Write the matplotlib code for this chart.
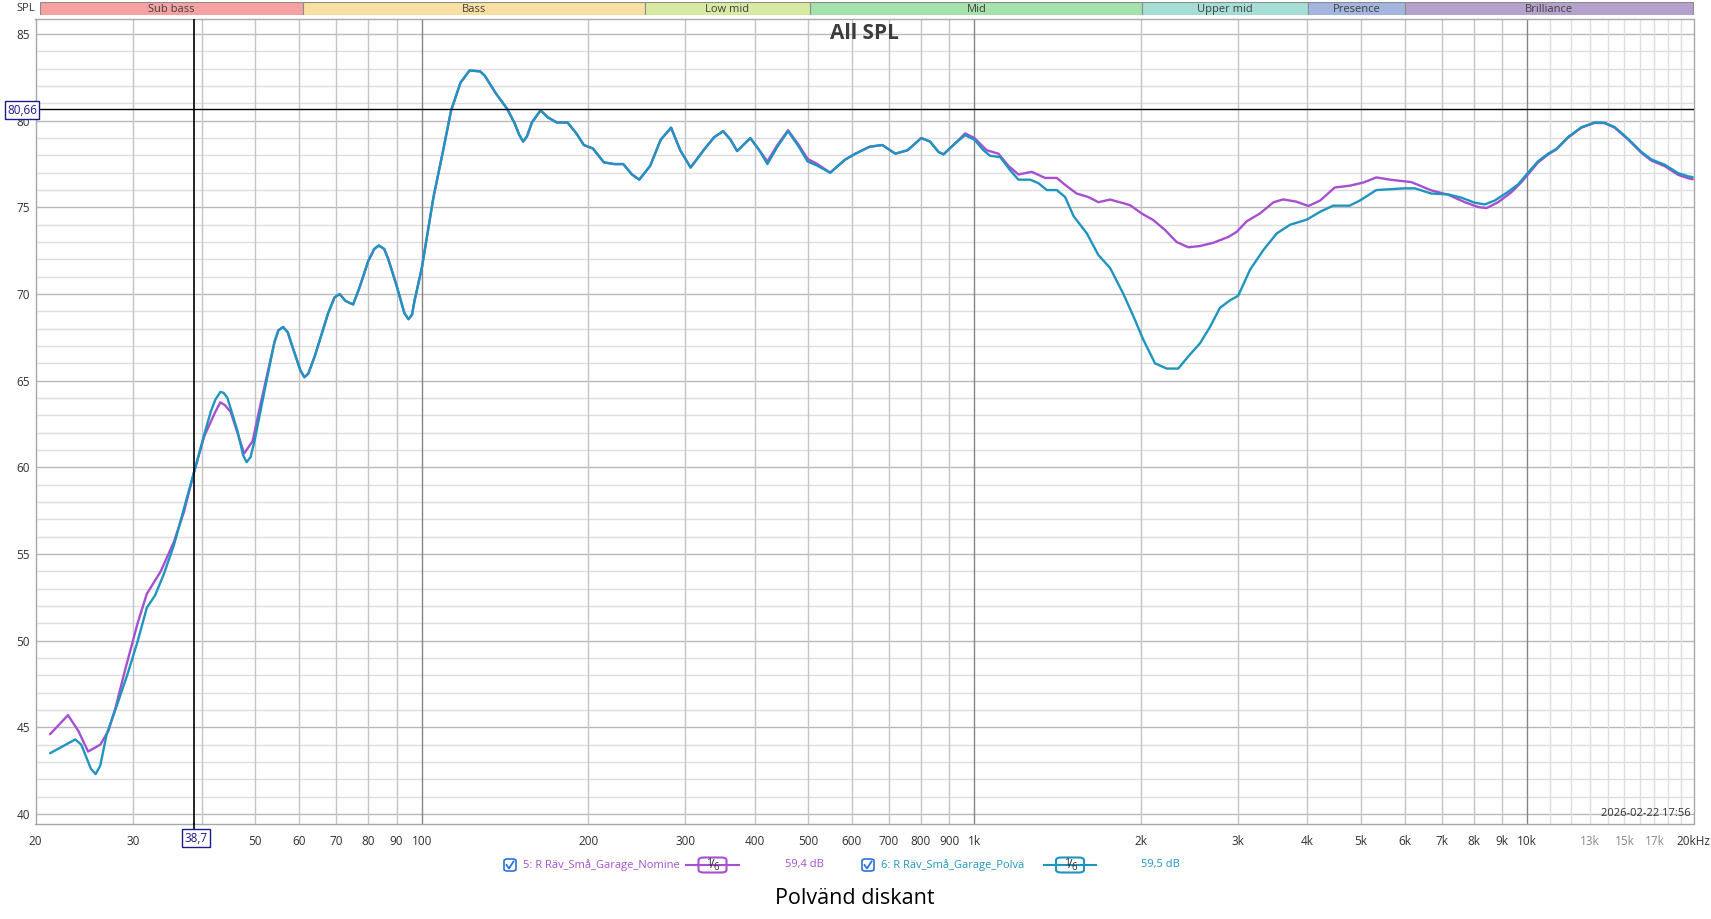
#!/usr/bin/env python3
# coding: utf-8

import numpy as np
import matplotlib
matplotlib.use('Agg')
import matplotlib.pyplot as plt
from matplotlib.patches import Rectangle, FancyBboxPatch
from matplotlib.lines import Line2D

plt.rcParams['font.family'] = ['Open Sans', 'DejaVu Sans']

freq_pol = [21.25, 23.6, 24.2, 25.2, 25.7, 26.2, 26.9, 28.1, 29.3, 30.6,
            31.8, 32.9, 34.1, 35.6, 37.1, 38.7, 40.4, 41.5, 42.3, 43.2,
            43.8, 44.5, 46.4, 47.5, 48.2, 49.0, 49.8, 52.0, 54.1, 55.0,
            56.1, 57.2, 58.0, 60.3, 61.3, 62.3, 64.0, 67.7, 69.5, 71.0,
            72.8, 75.1, 77.0, 80.0, 82.0, 83.6, 85.5, 87, 90, 93,
            94.6, 96, 97, 100, 101.2, 105, 109, 113, 117.5, 122,
            127.5, 130, 136, 142.6, 147, 150, 152.5, 155, 158.2, 164,
            169, 175.5, 183.5, 190.6, 196.4, 204, 213.5, 223, 231.5, 240,
            247.5, 259, 270.5, 282.5, 293.5, 306.5, 323.5, 338, 351, 362,
            372, 393, 408, 422, 440, 460, 481, 499, 520, 548,
            583, 609, 646, 681, 719, 757, 801, 831, 861, 879,
            923, 962, 1000, 1038, 1067, 1113, 1160, 1201, 1261, 1305,
            1352, 1409, 1459, 1511, 1597, 1676, 1760, 1860, 1940, 2022,
            2122, 2228, 2337, 2437, 2558, 2668, 2780, 2903, 3000, 3152,
            3334, 3524, 3725, 3997, 4223, 4456, 4773, 4984, 5335, 5647,
            6000, 6262, 6711, 7196, 7606, 8041, 8382, 8742, 9240, 9632,
            10000, 10469, 10913, 11301, 11862, 12539, 13256, 13818, 14403, 15226,
            16095, 16780, 17741, 18755, 19562, 19935]
spl_pol = [43.5, 44.3, 44.0, 42.6, 42.3, 42.8, 44.6, 46.3, 48.0, 49.95,
           51.9, 52.6, 53.8, 55.5, 57.6, 59.7, 61.9, 63.2, 63.9, 64.35,
           64.3, 64.0, 62.1, 60.7, 60.3, 60.6, 61.5, 64.5, 67.2, 67.9,
           68.1, 67.8, 67.2, 65.6, 65.2, 65.4, 66.4, 68.9, 69.8, 70.0,
           69.6, 69.4, 70.3, 71.9, 72.6, 72.8, 72.6, 72.0, 70.5, 68.9,
           68.55, 68.8, 69.6, 71.5, 72.5, 75.6, 78.1, 80.6, 82.2, 82.9,
           82.85, 82.6, 81.6, 80.7, 79.9, 79.2, 78.8, 79.1, 79.9, 80.6,
           80.2, 79.9, 79.9, 79.25, 78.6, 78.4, 77.6, 77.5, 77.5, 76.9,
           76.6, 77.4, 78.9, 79.6, 78.3, 77.3, 78.3, 79.05, 79.4, 78.9,
           78.25, 79.0, 78.3, 77.5, 78.5, 79.4, 78.5, 77.65, 77.4, 77.0,
           77.75, 78.1, 78.5, 78.6, 78.1, 78.3, 79.0, 78.8, 78.2, 78.06,
           78.7, 79.17, 78.9, 78.3, 77.98, 77.9, 77.15, 76.6, 76.6, 76.4,
           76.0, 76.0, 75.6, 74.5, 73.5, 72.25, 71.5, 70.0, 68.7, 67.35,
           66.0, 65.7, 65.7, 66.4, 67.15, 68.1, 69.2, 69.65, 69.9, 71.4,
           72.55, 73.5, 74.0, 74.3, 74.75, 75.1, 75.1, 75.4, 76.0, 76.05,
           76.1, 76.1, 75.8, 75.75, 75.56, 75.27, 75.17, 75.4, 75.9, 76.33,
           76.94, 77.67, 78.1, 78.38, 79.06, 79.63, 79.9, 79.88, 79.63, 78.96,
           78.2, 77.77, 77.46, 76.98, 76.79, 76.75]

# --- Nominell (purple) measurement
freq_nom = [21.25, 22.9, 23.9, 24.9, 26.2, 27.1, 27.9, 29.1, 30.6, 31.8,
            33.7, 35.6, 37.1, 38.7, 40.4, 42.3, 43.2, 44.0, 45.1, 47.7,
            49.4, 51.2, 54.1, 55.0, 56.1, 57.2, 58.0, 60.3, 61.3, 62.3,
            64.0, 67.7, 69.5, 71.0, 72.8, 75.1, 77.0, 80.0, 82.0, 83.6,
            85.5, 87, 90, 93, 94.6, 96, 97, 100, 101.2, 105,
            109, 113, 117.5, 122, 127.5, 130, 136, 142.6, 147, 150,
            152.5, 155, 158.2, 164, 169, 175.5, 183.5, 190.6, 196.4, 204,
            213.5, 223, 231.5, 240, 247.5, 259, 270.5, 282.5, 293.5, 306.5,
            323.5, 338, 351, 362, 372, 393, 408, 422, 440, 460,
            481, 499, 520, 548, 583, 609, 646, 681, 719, 757,
            801, 831, 861, 879, 923, 962, 1000, 1052, 1105, 1152,
            1201, 1270, 1342, 1409, 1459, 1531, 1607, 1676, 1760, 1847,
            1912, 2007, 2106, 2212, 2322, 2437, 2558, 2706, 2882, 2985,
            3109, 3285, 3477, 3620, 3825, 4020, 4223, 4488, 4773, 5060,
            5335, 5647, 6173, 6711, 7196, 7713, 8155, 8441, 8862, 9368,
            9767, 10000, 10469, 10913, 11301, 11862, 12539, 13256, 13818, 14403,
            15226, 16095, 16780, 17741, 18755, 19562, 19935]
spl_nom = [44.6, 45.7, 44.8, 43.6, 44.0, 44.8, 46.1, 48.4, 51.0, 52.7,
           54.0, 55.7, 57.4, 59.7, 61.8, 63.2, 63.75, 63.6, 63.2, 60.8,
           61.5, 63.8, 67.2, 67.9, 68.1, 67.8, 67.2, 65.6, 65.2, 65.4,
           66.4, 68.9, 69.8, 70.0, 69.6, 69.4, 70.3, 71.9, 72.6, 72.8,
           72.6, 72.0, 70.5, 68.9, 68.55, 68.8, 69.6, 71.5, 72.5, 75.6,
           78.1, 80.6, 82.2, 82.9, 82.85, 82.6, 81.6, 80.7, 79.9, 79.2,
           78.8, 79.1, 79.9, 80.6, 80.2, 79.9, 79.9, 79.25, 78.6, 78.4,
           77.6, 77.5, 77.5, 76.9, 76.6, 77.4, 78.9, 79.6, 78.3, 77.3,
           78.3, 79.05, 79.4, 78.9, 78.25, 79.0, 78.3, 77.65, 78.6, 79.45,
           78.6, 77.8, 77.5, 77.0, 77.75, 78.1, 78.5, 78.6, 78.1, 78.3,
           79.0, 78.8, 78.2, 78.06, 78.7, 79.27, 79.0, 78.3, 78.1, 77.4,
           76.9, 77.05, 76.7, 76.7, 76.3, 75.8, 75.6, 75.3, 75.45, 75.27,
           75.13, 74.65, 74.27, 73.7, 73.0, 72.7, 72.77, 72.96, 73.3, 73.6,
           74.2, 74.65, 75.3, 75.46, 75.33, 75.08, 75.4, 76.15, 76.25, 76.44,
           76.73, 76.6, 76.46, 75.98, 75.73, 75.3, 75.02, 74.96, 75.3, 75.88,
           76.46, 76.85, 77.6, 78.05, 78.35, 79.03, 79.6, 79.88, 79.86, 79.6,
           78.92, 78.15, 77.7, 77.38, 76.88, 76.68, 76.62]

# --- frequency bands on top
band_names = ['Sub bass', 'Bass', 'Low mid', 'Mid', 'Upper mid', 'Presence',
              'Brilliance']
band_edges = [20, 60, 250, 500, 2000, 4000, 6000, 20000]
band_colors = ['#f7a2a2', '#f8e0a2', '#d9eba2', '#a6e2ac', '#a6ded6',
               '#a2b6de', '#b4a2cc']

xtick_vals = [20, 30, 50, 60, 70, 80, 90, 100, 200, 300, 400, 500, 600, 700,
              800, 900, 1000, 2000, 3000, 4000, 5000, 6000, 7000, 8000, 9000,
              10000, 13000, 15000, 17000, 20000]
xtick_labels = ['20', '30', '50', '60', '70', '80', '90', '100', '200', '300',
                '400', '500', '600', '700', '800', '900', '1k', '2k', '3k',
                '4k', '5k', '6k', '7k', '8k', '9k', '10k', '13k', '15k', '17k',
                '20kHz']
ytick_vals = [40, 45, 50, 55, 60, 65, 70, 75, 80, 85]

cursor_f = 38.7
cursor_db = 80.66

W, H = 1711, 919


def fx(px):
    return px / W


def fy(py):
    return 1 - py / H


fig = plt.figure(figsize=(W / 100, H / 100), dpi=100)
fig.patch.set_facecolor('white')

ax = fig.add_axes([fx(35.5), fy(824), fx(1693.5) - fx(35.5), fy(18.5) - fy(824)])
ax.set_xscale('log')
ax.set_xlim(20, 20000)
ax.set_ylim(39.42, 85.9)

# --- grid
for db in range(40, 86):
    col = '#b9b9b9' if db % 5 == 0 else '#dedede'
    ax.axhline(db, color=col, lw=1.0, zorder=1)
for dec in [10, 100, 1000]:
    for m in range(2, 10):
        f = dec * m
        if f <= 20:
            continue
        ax.axvline(f, color='#c4c4c4', lw=1.0, zorder=1)
for f in [100, 1000, 10000]:
    ax.axvline(f, color='#858585', lw=1.0, zorder=1)
for f in range(11000, 20000, 1000):
    ax.axvline(f, color='#dedede', lw=1.0, zorder=1)

for sp in ax.spines.values():
    sp.set_color('#a8a8a8')
    sp.set_linewidth(1.0)

ax.set_xticks(xtick_vals)
ax.set_xticklabels(xtick_labels)
ax.xaxis.set_minor_locator(matplotlib.ticker.NullLocator())
ax.set_yticks(ytick_vals)
ax.tick_params(axis='both', length=0, labelsize=8.5, labelcolor='#303030')
ax.tick_params(axis='x', pad=8)
ax.tick_params(axis='y', pad=4)
for lbl in ax.get_xticklabels():
    if lbl.get_text() in ('13k', '15k', '17k'):
        lbl.set_color('#8a8a8a')

# --- curves
ax.plot(freq_nom, spl_nom, color='#a64fd1', lw=1.7, zorder=3,
        solid_joinstyle='round', solid_capstyle='round')
ax.plot(freq_pol, spl_pol, color='#1e95bf', lw=1.7, zorder=4,
        solid_joinstyle='round', solid_capstyle='round')

# --- cursor
ax.axvline(cursor_f, color='black', lw=1.2, zorder=5)
ax.axhline(cursor_db, color='black', lw=1.0, zorder=5)
ax.plot([cursor_f, cursor_f], [39.42, 39.0], color='black', lw=1.2,
        clip_on=False, zorder=5)

ax.text(0.5, 0.995, 'All SPL', transform=ax.transAxes, ha='center', va='top',
        fontsize=15, fontweight='bold', color='#3c3c3c', zorder=6)
ax.text(0.998, 0.006, '2026-02-22 17:56', transform=ax.transAxes, ha='right',
        va='bottom', fontsize=8, color='#303030', zorder=6)

# cursor value boxes
box_kw = dict(boxstyle='square,pad=0.18', fc='white', ec='#1a1a8a', lw=1.0)
fig.text(fx(22), fy(110), '80,66', ha='center', va='center', fontsize=8.5,
         color='#1a1a8a', bbox=box_kw)
fig.text(fx(196), fy(838), '38,7', ha='center', va='center', fontsize=8.5,
         color='#1a1a8a', bbox=box_kw)

# --- band strip
bax = fig.add_axes([fx(40), fy(15.3), fx(1693.5) - fx(40), fy(2.2) - fy(15.3)])
bax.set_xscale('log')
bax.set_xlim(20, 20000)
bax.set_ylim(0, 1)
bax.axis('off')
for name, lo, hi, col in zip(band_names, band_edges[:-1], band_edges[1:],
                             band_colors):
    bax.add_patch(Rectangle((lo, 0), hi - lo, 1, fc=col, ec='#8c8c8c', lw=0.8))
    bax.text(np.sqrt(lo * hi), 0.45, name, ha='center', va='center',
             fontsize=8, color='#404040')
fig.text(fx(35), fy(8.5), 'SPL', ha='right', va='center', fontsize=8,
         color='#303030')


# --- legend row
def checkbox(x, y):
    fig.add_artist(FancyBboxPatch((fx(x - 6), fy(y + 6)), fx(12), 12 / H,
                                  boxstyle='round,pad=0,rounding_size=0.002',
                                  fc='white', ec='#2b73d6', lw=1.2,
                                  transform=fig.transFigure))
    fig.add_artist(Line2D([fx(x - 3.5), fx(x - 1), fx(x + 3.5)],
                          [fy(y), fy(y + 3.5), fy(y - 3.5)],
                          color='#2b73d6', lw=1.3,
                          transform=fig.transFigure))


def smooth_box(x0, x1, y, col):
    fig.add_artist(Line2D([fx(x0), fx(x1)], [fy(y), fy(y)], color=col, lw=1.5,
                          transform=fig.transFigure))
    xc = (x0 + x1) / 2
    fig.add_artist(FancyBboxPatch((fx(xc - 14), fy(y + 7.5)), fx(28), 15 / H,
                                  boxstyle='round,pad=0,rounding_size=0.003',
                                  fc='white', ec=col, lw=1.5,
                                  transform=fig.transFigure))
    fig.text(fx(xc - 3), fy(y - 2), '1', ha='center', va='center', fontsize=7.5,
             color='#303030')
    fig.text(fx(xc), fy(y), '/', ha='center', va='center', fontsize=9,
             color='#303030')
    fig.text(fx(xc + 4), fy(y + 2.5), '6', ha='center', va='center',
             fontsize=7, color='#303030')


legend_y = 865
checkbox(510, legend_y)
fig.text(fx(523), fy(legend_y), '5: R Räv_Små_Garage_Nomine', ha='left',
         va='center', fontsize=8, color='#a64fd1')
smooth_box(686, 739, legend_y, '#a64fd1')
fig.text(fx(785), fy(legend_y), '59,4 dB', ha='left', va='center',
         fontsize=8, color='#a64fd1')
checkbox(868, legend_y)
fig.text(fx(881), fy(legend_y), '6: R Räv_Små_Garage_Polvä', ha='left',
         va='center', fontsize=8, color='#1e95bf')
smooth_box(1044, 1096, legend_y, '#1e95bf')
fig.text(fx(1141), fy(legend_y), '59,5 dB', ha='left', va='center',
         fontsize=8, color='#1e95bf')

fig.text(fx(855), fy(899), 'Polvänd diskant', ha='center', va='center',
         fontsize=15.5, color='black')

fig.savefig('out.png', dpi=100, facecolor='white')
